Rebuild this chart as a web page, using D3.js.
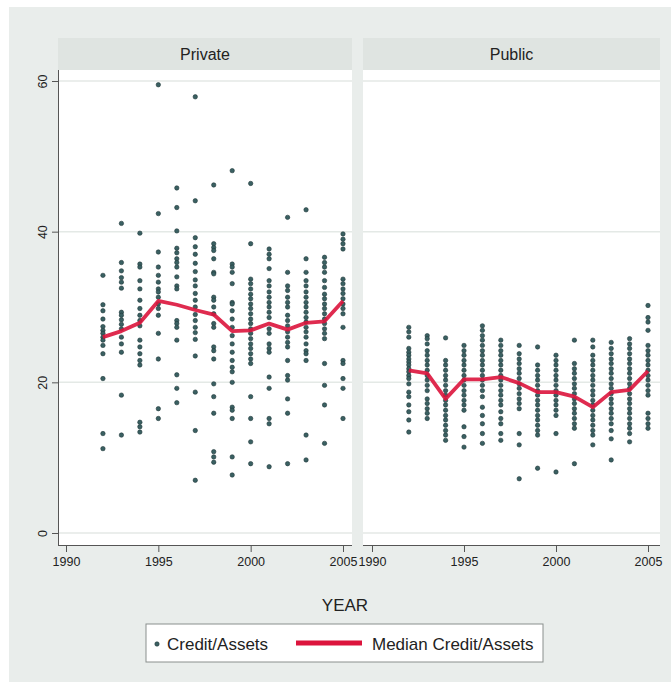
<!DOCTYPE html>
<meta charset="utf-8">
<style>
body { margin: 0; background: #fff; }
text { font-family: "Liberation Sans", Arial, sans-serif; fill: #222; }
.tick line { stroke: #555; }
.domain { stroke: #555; }
</style>
<svg width="671" height="682"></svg>
<script src="https://cdn.jsdelivr.net/npm/d3@7"></script>
<script>

// years with observations
const years = [1992, 1993, 1994, 1995, 1996, 1997, 1998, 1999, 2000, 2001, 2002, 2003, 2004, 2005];
const panels = ["Private", "Public"];
const xTicks = [1990, 1995, 2000, 2005];
const yTicks = [0, 20, 40, 60];

const privateMedian = [26.0, 26.8, 27.9, 30.8, 30.3, 29.6, 29.0, 26.8, 26.9, 27.8, 27.0, 27.9, 28.1, 30.8];
const publicMedian = [21.6, 21.2, 17.8, 20.4, 20.4, 20.7, 19.9, 18.7, 18.7, 18.1, 16.7, 18.7, 19.0, 21.5];

// Credit/Assets per bank, one list per year
const privatePoints = [
  [34.2, 30.3, 29.5, 28.4, 27.4, 26.9, 26.5, 26.0, 25.6, 24.9, 23.8, 20.5, 13.2, 11.2],
  [41.1, 35.9, 34.8, 33.9, 33.3, 32.5, 29.3, 28.9, 28.3, 27.7, 27.1, 26.0, 25.1, 24.0, 18.3, 13.0],
  [39.8, 35.7, 35.3, 33.5, 32.4, 30.9, 29.8, 28.9, 28.2, 27.5, 25.6, 24.7, 23.8, 22.9, 22.3, 14.7, 14.1, 13.4],
  [59.5, 42.4, 37.3, 35.3, 34.2, 33.3, 32.4, 32.0, 31.3, 30.4, 29.8, 28.9, 26.5, 23.1, 16.5, 15.2],
  [45.8, 43.2, 40.1, 37.8, 37.2, 36.4, 35.9, 35.3, 34.0, 32.8, 32.4, 28.2, 27.8, 27.3, 25.6, 21.0, 19.2, 17.3],
  [57.9, 44.1, 39.2, 38.0, 37.0, 35.8, 34.7, 33.6, 32.8, 31.8, 30.9, 30.0, 29.0, 28.2, 27.3, 26.6, 25.7, 23.5, 18.7, 13.6, 7.0],
  [46.2, 38.4, 37.9, 37.5, 36.4, 34.6, 34.4, 31.3, 30.9, 30.0, 29.1, 27.8, 27.3, 24.7, 24.2, 23.1, 19.8, 18.1, 15.9, 10.8, 10.1, 9.4],
  [48.1, 35.7, 35.3, 34.6, 33.1, 30.6, 30.4, 29.5, 28.4, 27.3, 26.2, 25.1, 24.0, 22.9, 22.0, 21.4, 20.0, 16.7, 16.3, 15.2, 10.1, 7.7],
  [46.4, 38.4, 33.7, 33.1, 32.4, 31.7, 31.1, 30.4, 29.8, 29.1, 28.4, 27.8, 27.1, 26.5, 25.8, 25.1, 24.5, 23.8, 23.1, 22.5, 18.1, 15.2, 12.1, 9.2],
  [37.7, 37.0, 36.4, 35.1, 33.5, 32.8, 32.0, 31.3, 30.6, 30.0, 29.3, 28.6, 27.1, 26.5, 25.1, 24.5, 24.0, 20.7, 19.2, 15.2, 14.5, 8.8],
  [41.9, 34.6, 32.8, 32.2, 31.3, 30.6, 30.0, 28.9, 28.2, 27.5, 26.7, 26.0, 25.3, 24.7, 22.9, 20.9, 20.3, 17.8, 15.9, 9.2],
  [42.9, 36.4, 34.6, 33.5, 32.8, 32.0, 31.3, 30.6, 30.0, 29.3, 28.6, 28.0, 27.3, 26.7, 26.0, 25.1, 24.2, 23.8, 22.9, 13.0, 9.7],
  [36.6, 35.9, 35.3, 34.6, 33.5, 32.6, 31.7, 31.1, 30.4, 29.8, 29.1, 28.4, 27.8, 27.1, 26.5, 25.8, 22.5, 19.6, 17.0, 11.9],
  [39.7, 39.0, 38.4, 37.7, 33.7, 33.1, 32.4, 31.8, 31.1, 30.4, 29.8, 29.1, 27.3, 22.9, 22.5, 20.5, 19.2, 15.2]
];

const publicPoints = [
  [27.3, 26.7, 26.0, 24.5, 24.0, 23.6, 23.1, 22.7, 22.3, 21.8, 21.4, 20.9, 20.5, 19.8, 18.7, 18.1, 17.0, 16.1, 15.0, 13.4],
  [26.2, 25.8, 25.1, 24.2, 23.6, 22.9, 22.3, 21.6, 20.9, 20.3, 19.6, 18.9, 17.8, 17.2, 16.5, 15.9, 15.2],
  [25.9, 22.9, 22.3, 21.6, 20.9, 20.3, 19.6, 18.9, 18.3, 17.6, 17.0, 16.3, 15.6, 15.0, 14.3, 13.6, 13.0, 12.3],
  [24.9, 24.2, 23.6, 22.9, 22.3, 21.6, 20.9, 20.3, 19.6, 18.9, 18.3, 17.6, 17.0, 16.3, 14.1, 12.8, 11.4],
  [27.5, 26.9, 26.2, 25.6, 24.9, 24.2, 23.6, 22.9, 22.3, 21.6, 20.9, 20.3, 19.6, 18.9, 18.1, 16.7, 15.6, 14.5, 13.2, 11.9],
  [25.6, 24.9, 24.2, 23.6, 22.9, 22.3, 21.6, 20.9, 20.3, 19.6, 18.9, 18.3, 17.6, 17.0, 16.1, 15.2, 14.5, 13.2, 12.3],
  [24.9, 23.8, 23.1, 22.5, 21.8, 21.2, 20.5, 19.8, 19.2, 18.5, 17.8, 17.2, 16.5, 13.2, 11.7, 7.2],
  [24.7, 22.3, 21.6, 20.9, 20.3, 19.6, 18.9, 18.3, 17.6, 17.0, 16.3, 15.6, 15.0, 14.3, 13.6, 13.0, 8.6],
  [23.6, 22.9, 22.3, 21.6, 20.9, 20.3, 19.6, 18.9, 18.3, 17.6, 17.0, 16.3, 15.6, 13.2, 8.1],
  [25.6, 22.5, 21.8, 21.2, 20.5, 19.8, 19.2, 18.5, 17.8, 17.2, 16.5, 15.9, 15.2, 14.5, 13.9, 9.2],
  [25.6, 24.7, 23.6, 22.9, 22.3, 21.6, 20.9, 20.3, 19.6, 18.9, 18.3, 17.6, 17.0, 16.3, 15.6, 15.0, 14.3, 13.6, 13.0, 11.7],
  [25.3, 24.5, 23.8, 23.1, 22.5, 21.8, 21.2, 20.5, 19.8, 19.2, 18.5, 17.8, 17.2, 16.5, 15.9, 15.2, 14.5, 13.6, 12.5, 9.7],
  [25.8, 25.1, 24.5, 23.8, 23.1, 22.5, 21.8, 21.2, 20.5, 19.8, 19.2, 18.5, 17.8, 17.2, 16.5, 15.9, 15.2, 14.5, 13.9, 13.2, 12.1],
  [30.2, 28.6, 28.0, 26.9, 24.9, 24.2, 23.6, 22.9, 22.3, 21.6, 20.9, 20.3, 19.6, 18.9, 18.3, 15.9, 15.2, 14.5, 13.9]
];

var svg = d3.select("svg");

var dotFill = "#3a6062", dotStroke = "#22393a", red = "#dc143c";

// outer graph region
svg.append("rect").attr("x", 9).attr("y", 7).attr("width", 662).attr("height", 675).attr("fill", "#e9edeb");

var y = d3.scaleLinear().domain([0, 60]).range([533, 81]);

var layout = [
  {name: panels[0], left: 58, right: 352, r0: 66, r1: 343, points: privatePoints, median: privateMedian},
  {name: panels[1], left: 363, right: 660, r0: 372, r1: 648, points: publicPoints, median: publicMedian}
];

layout.forEach(function(p) {
  var x = d3.scaleLinear().domain([1990, 2005]).range([p.r0, p.r1]);
  var g = svg.append("g");

  // header strip
  g.append("rect").attr("x", p.left).attr("y", 38).attr("width", p.right - p.left).attr("height", 32).attr("fill", "#dfe4e1");
  g.append("text").attr("x", (p.left + p.right) / 2).attr("y", 60)
    .attr("text-anchor", "middle").style("font-size", "16px").text(p.name);

  // plot region
  g.append("rect").attr("x", p.left).attr("y", 70).attr("width", p.right - p.left).attr("height", 475).attr("fill", "#fff");

  g.selectAll(".grid").data(yTicks).enter().append("line")
    .attr("x1", p.left).attr("x2", p.right)
    .attr("y1", function(d) { return y(d); }).attr("y2", function(d) { return y(d); })
    .attr("stroke", "#e4e9e6").attr("stroke-width", 1.5);

  // scatter
  var pts = [];
  p.points.forEach(function(vals, i) {
    vals.forEach(function(v) { pts.push({year: years[i], value: v}); });
  });
  g.selectAll("circle").data(pts).enter().append("circle")
    .attr("cx", function(d) { return x(d.year); })
    .attr("cy", function(d) { return y(d.value); })
    .attr("r", 2.2)
    .attr("fill", dotFill).attr("stroke", dotStroke).attr("stroke-width", 0.6);

  // median line
  var line = d3.line()
    .x(function(d, i) { return x(years[i]); })
    .y(function(d) { return y(d); });
  g.append("path").datum(p.median).attr("d", line)
    .attr("fill", "none").attr("stroke", red).attr("stroke-width", 3.8)
    .attr("stroke-linejoin", "round").attr("opacity", 0.9);

  // x axis
  var xAxis = g.append("g").attr("transform", "translate(0,545)")
    .call(d3.axisBottom(x).tickValues(xTicks).tickFormat(d3.format("d")).tickSize(7).tickSizeOuter(0).tickPadding(5));
  xAxis.select(".domain").attr("d", "M" + p.left + ",0.5H" + p.right);
  xAxis.selectAll("text").style("font-size", "12.5px").attr("fill", "#222");
});

// y axis on the left panel only, labels turned like the x ones are read sideways
var yAxis = svg.append("g").attr("transform", "translate(58,0)")
  .call(d3.axisLeft(y).tickValues(yTicks).tickSize(6).tickSizeOuter(0).tickPadding(4));
yAxis.select(".domain").attr("d", "M0.5,70V545");
yAxis.selectAll(".tick text")
  .style("font-size", "12.5px").attr("fill", "#222")
  .attr("text-anchor", "middle")
  .attr("x", 0).attr("y", 0).attr("dy", 0)
  .attr("transform", "translate(-11,0) rotate(-90)");

svg.append("text").attr("x", 345).attr("y", 611).attr("text-anchor", "middle")
  .style("font-size", "17px").text("YEAR");

// legend
var legend = svg.append("g");
legend.append("rect").attr("x", 146).attr("y", 624).attr("width", 397).attr("height", 38)
  .attr("fill", "#fff").attr("stroke", "#8a8f8d");
legend.append("circle").attr("cx", 157).attr("cy", 644).attr("r", 2.2)
  .attr("fill", dotFill).attr("stroke", dotStroke).attr("stroke-width", 0.6);
legend.append("text").attr("x", 167).attr("y", 650).style("font-size", "17px").text("Credit/Assets");
legend.append("line").attr("x1", 296).attr("x2", 362).attr("y1", 643).attr("y2", 643)
  .attr("stroke", red).attr("stroke-width", 5);
legend.append("text").attr("x", 372).attr("y", 650).style("font-size", "17px").text("Median Credit/Assets");

</script>
